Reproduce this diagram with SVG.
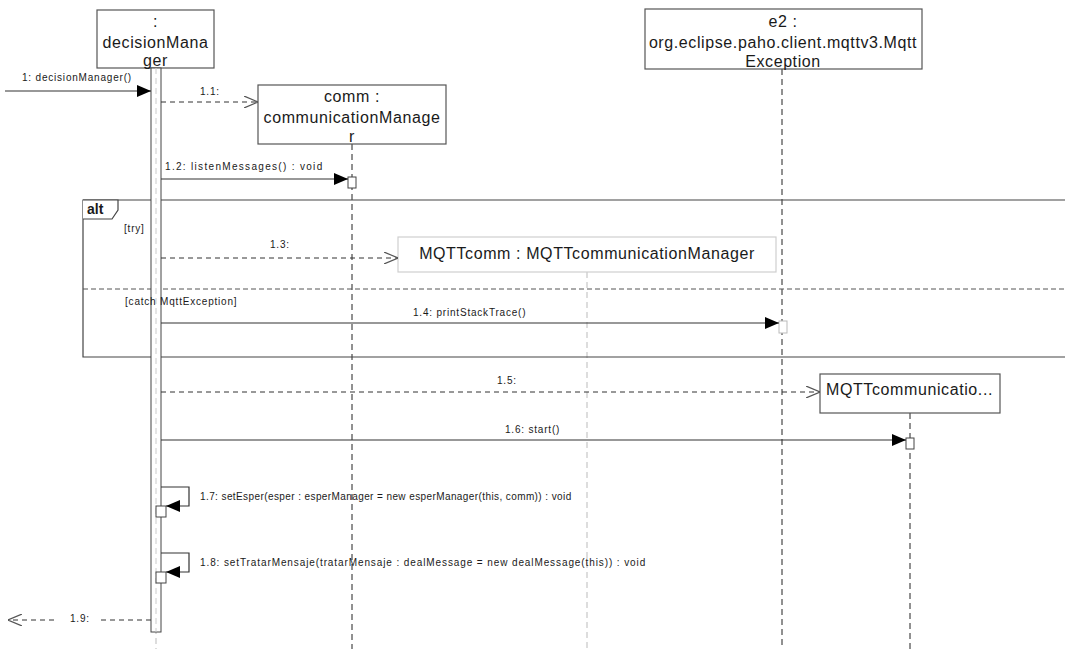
<svg xmlns="http://www.w3.org/2000/svg" width="1065" height="649" viewBox="0 0 1065 649">
  <style>
    text { font-family: "Liberation Sans", Arial, sans-serif; fill: #1a1a1a; }
    .obj { font-size: 16px; text-anchor: middle; letter-spacing: 0.6px; }
    .lbl { font-size: 10px; letter-spacing: 0.8px; }
    .box { fill: #fff; stroke: #555; stroke-width: 1.2; }
    .box-lite { fill: #fff; stroke: #cfcfcf; stroke-width: 1.2; }
    .life { stroke: #222; stroke-width: 1; stroke-dasharray: 6 4; fill: none; }
    .life-lite { stroke: #bbb; stroke-width: 1; stroke-dasharray: 6 4; fill: none; }
    .call { stroke: #333; stroke-width: 1.2; fill: none; }
    .ret { stroke: #333; stroke-width: 1; stroke-dasharray: 5 4; fill: none; }
    .act { fill: #fff; stroke: #444; stroke-width: 1; }
    .act-lite { fill: #fff; stroke: #bbb; stroke-width: 1; }
    .frame { fill: none; stroke: #444; stroke-width: 1.2; }
  </style>
  <defs>
    <marker id="filled" viewBox="0 0 14 12" refX="14" refY="6" markerWidth="14" markerHeight="12" markerUnits="userSpaceOnUse" orient="auto">
      <path d="M0,0 L14,6 L0,12 Z" fill="#000"/>
    </marker>
    <marker id="open" viewBox="0 0 14 12" refX="14" refY="6" markerWidth="14" markerHeight="12" markerUnits="userSpaceOnUse" orient="auto">
      <path d="M0,0 L14,6 L0,12" fill="none" stroke="#555" stroke-width="1.2"/>
    </marker>
  </defs>

  <!-- lifelines -->
  <g id="lifelines">
    <line class="life-lite" x1="156" y1="68" x2="156" y2="649"/>
    <line class="life" x1="352" y1="144" x2="352" y2="649"/>
    <line class="life-lite" x1="587" y1="272" x2="587" y2="649"/>
    <line class="life" x1="782" y1="69" x2="782" y2="649"/>
    <line class="life" x1="910" y1="413" x2="910" y2="649"/>
  </g>

  <!-- combined fragment frame -->
  <g id="alt-fragment">
    <path class="frame" d="M1065,200 H83 V357 H1065"/>
    <path d="M83,200 H118 V210 L112,219 H83" fill="#fff" stroke="#444" stroke-width="1.2"/>
    <text x="87" y="214" style="font-size:14px;font-weight:bold">alt</text>
    <line x1="83" y1="289" x2="1065" y2="289" stroke="#555" stroke-width="1" stroke-dasharray="5 3"/>
  </g>

  <!-- participants -->
  <g id="decisionManager">
    <rect class="box" x="97" y="10" width="117" height="58"/>
    <text class="obj" x="155.5" y="27">:</text>
    <text class="obj" x="155.5" y="48">decisionMana</text>
    <text class="obj" x="155.5" y="66">ger</text>
    <rect class="act" x="151" y="68" width="10" height="564"/>
    <line x1="156" y1="68" x2="156" y2="632" stroke="#ccc" stroke-width="1" stroke-dasharray="6 4"/>
  </g>

  <g id="comm">
    <rect class="box" x="258" y="85" width="188" height="59"/>
    <text class="obj" x="352" y="102">comm :</text>
    <text class="obj" x="352" y="123">communicationManage</text>
    <text class="obj" x="352" y="142">r</text>
    <rect class="act" x="348" y="177" width="8" height="11"/>
  </g>

  <g id="e2">
    <rect class="box" x="645" y="9" width="277" height="60"/>
    <text class="obj" x="783" y="27">e2 :</text>
    <text class="obj" x="783" y="48">org.eclipse.paho.client.mqttv3.Mqtt</text>
    <text class="obj" x="783" y="67">Exception</text>
    <rect class="act-lite" x="779" y="321" width="8" height="12"/>
  </g>

  <g id="MQTTcomm">
    <rect class="box-lite" x="398" y="237" width="378" height="35"/>
    <text class="obj" x="587" y="259">MQTTcomm : MQTTcommunicationManager</text>
  </g>

  <g id="MQTTcommunicationManager">
    <rect class="box" x="820" y="374" width="180" height="39"/>
    <text x="826" y="395" style="font-size:16px;letter-spacing:0.6px">MQTTcommunicatio...</text>
    <rect class="act" x="906" y="438" width="8" height="11"/>
  </g>

  <!-- guards of the alt fragment -->
  <g id="guards">
    <text class="lbl" x="124" y="232">[try]</text>
    <text class="lbl" x="125" y="305">[catch MqttException]</text>
  </g>

  <!-- messages -->
  <g id="connectors">
    <line class="call" x1="5" y1="91" x2="151" y2="91" marker-end="url(#filled)"/>
    <text class="lbl" x="22" y="81">1: decisionManager()</text>

    <line class="ret" x1="161" y1="102" x2="258" y2="102" marker-end="url(#open)"/>
    <text class="lbl" x="200" y="95">1.1:</text>

    <line class="call" x1="161" y1="179" x2="348" y2="179" marker-end="url(#filled)"/>
    <text class="lbl" x="165" y="170" textLength="158" lengthAdjust="spacing">1.2: listenMessages() : void</text>

    <line class="ret" x1="161" y1="258" x2="398" y2="258" marker-end="url(#open)"/>
    <text class="lbl" x="270" y="248">1.3:</text>

    <line class="call" x1="161" y1="323" x2="779" y2="323" marker-end="url(#filled)"/>
    <text class="lbl" x="413" y="316">1.4: printStackTrace()</text>

    <line class="ret" x1="161" y1="392" x2="820" y2="392" marker-end="url(#open)"/>
    <text class="lbl" x="497" y="384">1.5:</text>

    <line class="call" x1="161" y1="440" x2="906" y2="440" marker-end="url(#filled)"/>
    <text class="lbl" x="505" y="433">1.6: start()</text>

    <!-- self calls -->
    <path class="call" d="M161,487 H189 V506 H166" marker-end="url(#filled)"/>
    <rect class="act" x="156" y="506" width="10" height="11"/>
    <text class="lbl" x="200" y="500" textLength="372" lengthAdjust="spacing">1.7: setEsper(esper : esperManager = new esperManager(this, comm)) : void</text>

    <path class="call" d="M161,553 H189 V572 H166" marker-end="url(#filled)"/>
    <rect class="act" x="156" y="572" width="10" height="11"/>
    <text class="lbl" x="200" y="566" textLength="446" lengthAdjust="spacing">1.8: setTratarMensaje(tratarMensaje : dealMessage = new dealMessage(this)) : void</text>

    <!-- return to caller -->
    <line class="ret" x1="151" y1="620" x2="101" y2="620"/>
    <line class="ret" x1="54" y1="620" x2="8" y2="620" marker-end="url(#open)"/>
    <text class="lbl" x="70" y="622">1.9:</text>
  </g>
</svg>
